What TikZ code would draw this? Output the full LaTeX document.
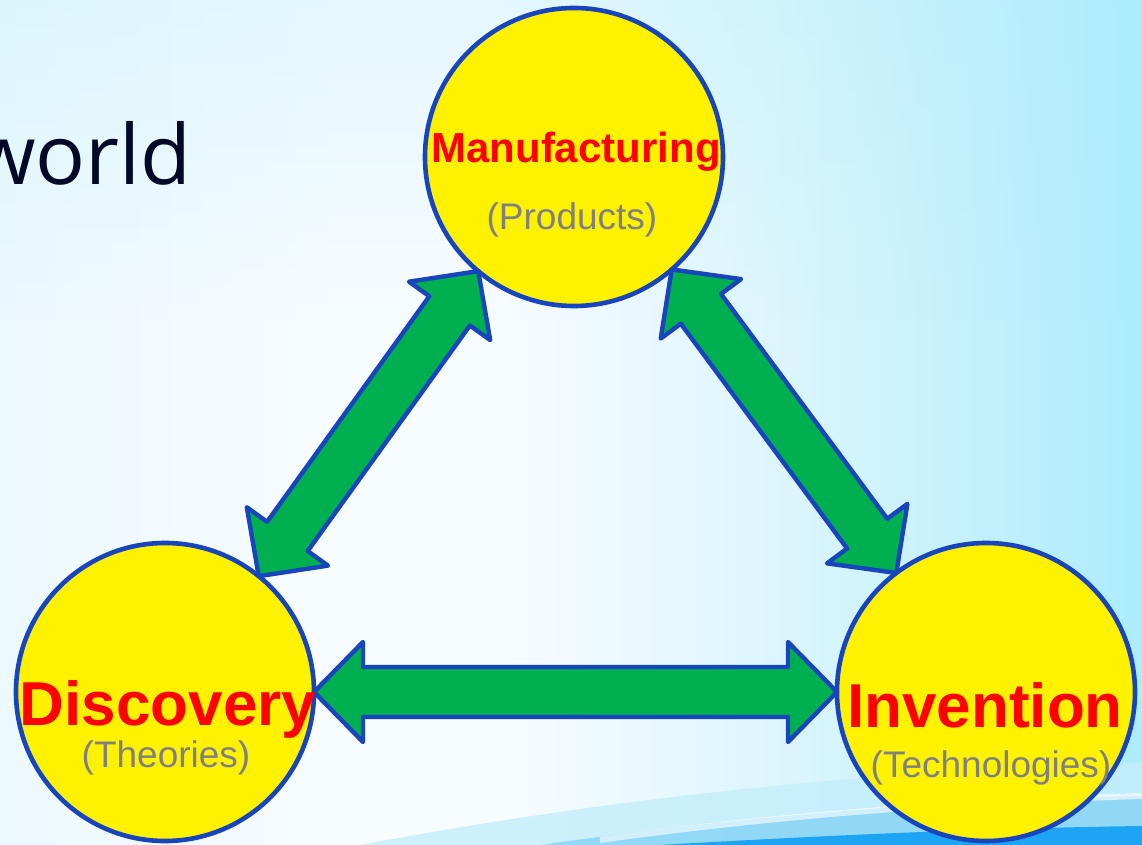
\documentclass[tikz,border=0pt]{standalone}
\usepackage{fontspec}
\setmainfont{Liberation Sans}
\newfontfamily\worldfont{Open Sans}
\usetikzlibrary{calc,fadings}
\definecolor{circblue}{RGB}{24,68,190}
\definecolor{arrowgreen}{RGB}{0,176,80}
\definecolor{txtred}{RGB}{255,0,0}
\definecolor{txtgray}{RGB}{128,128,128}
\definecolor{worldcol}{RGB}{0,8,40}
\definecolor{bgl}{RGB}{236,249,254}
\definecolor{bgw}{RGB}{247,252,255}
\definecolor{bgm}{RGB}{218,245,253}
\definecolor{bgc}{RGB}{172,236,252}
\definecolor{sw1}{RGB}{196,238,251}
\definecolor{sw2}{RGB}{140,214,247}
\definecolor{sw3}{RGB}{30,164,244}
\pgfdeclarehorizontalshading{bgshade}{100bp}{color(0bp)=(bgl); color(25bp)=(bgl); color(40bp)=(bgw); color(47bp)=(bgw); color(60bp)=(bgm); color(75bp)=(bgc); color(100bp)=(bgc)}
\tikzset{
  bigcircle/.style={circle, draw=circblue, line width=2.3pt, fill=yellow, minimum size=149pt, inner sep=0pt, outer sep=0pt},
  fatarrow/.style={fill=arrowgreen, draw=circblue, line width=2.2pt, line join=round},
  titletext/.style={font=\bfseries, text=txtred, inner sep=0pt, anchor=base},
  subtext/.style={text=txtgray, inner sep=0pt, anchor=base, font=\fontsize{18.5}{20}\selectfont},
}
\newcommand\fatarrow[2]{%
  \path ($(#1)!24.5pt!(#2)$) coordinate (h1) ($(#2)!24.5pt!(#1)$) coordinate (h2);
  \draw[fatarrow] (#1) -- ($(h1)!25pt!90:(#2)$) -- ($(h1)!12.5pt!90:(#2)$)
    -- ($(h2)!12.5pt!-90:(#1)$) -- ($(h2)!25pt!-90:(#1)$) -- (#2)
    -- ($(h2)!25pt!90:(#1)$) -- ($(h2)!12.5pt!90:(#1)$)
    -- ($(h1)!12.5pt!-90:(#2)$) -- ($(h1)!25pt!-90:(#2)$) -- cycle;}
\begin{document}
\begin{tikzpicture}[x=0.5pt, y=-0.5pt]
\useasboundingbox (0,0) rectangle (1142,845);
\begin{scope}
  \clip (0,0) rectangle (1142,845);
  \shade[shading=bgshade] (0,0) rectangle (1142,845);
  \fill[bgc, opacity=0.25, path fading=south] (0,0) rectangle (1142,320);
  \fill[sw1, opacity=0.8] (360,845) .. controls (600,800) and (850,772) .. (1142,762) -- (1142,845) -- cycle;
  \fill[sw2, opacity=0.9] (540,845) .. controls (750,815) and (950,800) .. (1142,796) -- (1142,845) -- cycle;
  \draw[white, opacity=0.6, line width=3pt] (600,840) .. controls (800,812) and (1000,800) .. (1142,796);
  \fill[sw3] (660,845) .. controls (850,834) and (1000,828) .. (1142,826) -- (1142,845) -- cycle;
  \node[anchor=base east, inner sep=0pt, text=worldcol, font=\worldfont\fontsize{41.5}{44}\selectfont] (world) at (192,185) {world};
\end{scope}

\node[bigcircle] (M) at (574,157) {};
\node[bigcircle] (D) at (165,692) {};
\node[bigcircle] (I) at (986,692) {};

\coordinate (a1) at (M.230);
\coordinate (a2) at (D.51);
\coordinate (b1) at (M.311);
\coordinate (b2) at (I.127);
\fatarrow{a1}{a2}
\fatarrow{b1}{b2}
\fatarrow{D.east}{I.west}

\node[titletext, font=\bfseries\fontsize{21}{24}\selectfont] (mt) at (576,163) {Manufacturing};
\node[subtext] (ms) at (572,230) {(Products)};
\node[titletext, font=\bfseries\fontsize{31}{34}\selectfont] (dt) at (168,725) {Discovery};
\node[subtext] (ds) at (166,767) {(Theories)};
\node[titletext, font=\bfseries\fontsize{31}{34}\selectfont] (it) at (985,727) {Invention};
\node[subtext] (is) at (991,777) {(Technologies)};
\end{tikzpicture}
\end{document}
